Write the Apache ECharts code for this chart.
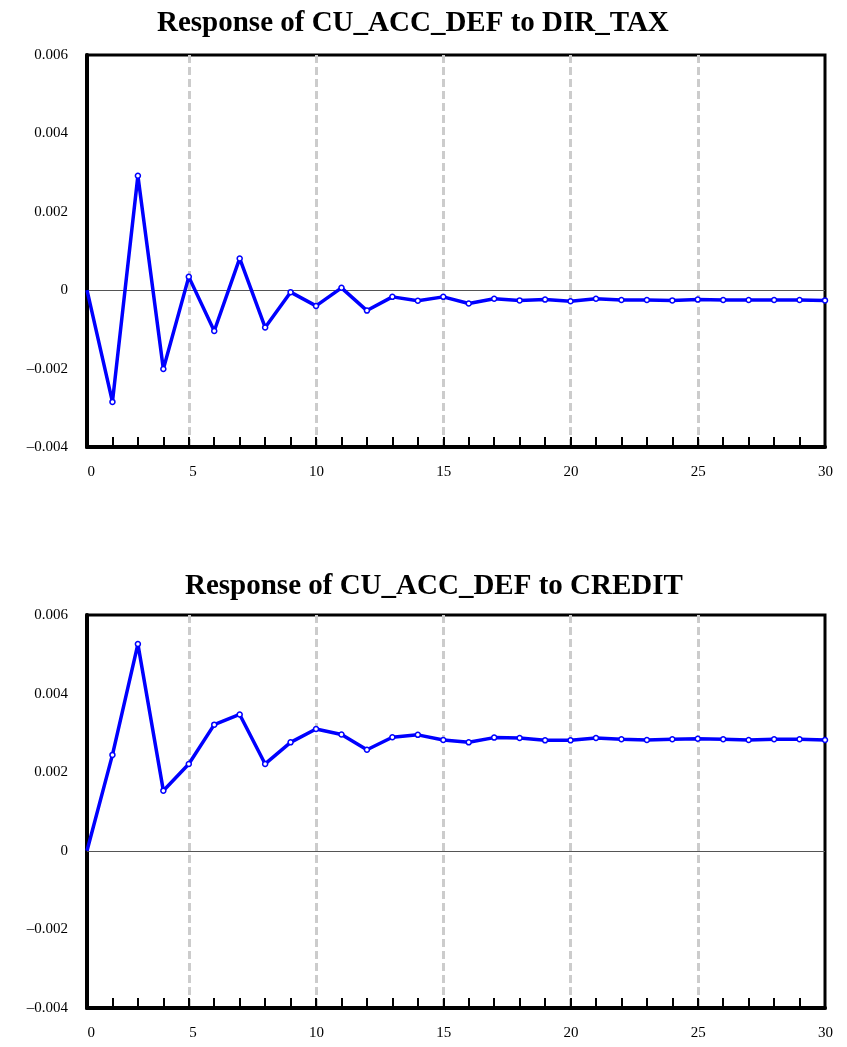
<!DOCTYPE html>
<html>
<head>
<meta charset="utf-8">
<script src="https://cdn.jsdelivr.net/npm/echarts@6/dist/echarts.min.js"></script>
<style>
html,body{margin:0;padding:0;background:#fff;}
#chart{width:847px;height:1047px;}
</style>
</head>
<body>
<div id="chart"></div>
<script>
// Periods 1..30
const periods = ['1','2','3','4','5','6','7','8','9','10','11','12','13','14','15','16','17','18','19','20','21','22','23','24','25','26','27','28','29','30'];
// Tick labels shown on x axis and the period index they sit at
const xTickLabels = ['0','5','10','15','20','25','30'];
const xTickIndex = [0,4,9,14,19,24,29];
// Dashed gridline positions (period index)
const gridIndex = [4,9,14,19,24];

const titleTop = 'Response of CU_ACC_DEF to DIR_TAX';
const titleBottom = 'Response of CU_ACC_DEF to CREDIT';

const dirTax = [0, -0.00285, 0.00292, -0.00201, 0.00034, -0.00104, 0.00081, -0.00095, -0.00005, -0.00040,
  0.00006, -0.00052, -0.00017, -0.00027, -0.00017, -0.00034, -0.00022, -0.00026, -0.00024, -0.00028,
  -0.00022, -0.00025, -0.00025, -0.00026, -0.00024, -0.00025, -0.00025, -0.00025, -0.00025, -0.00026];

const credit = [0, 0.00244, 0.00526, 0.00153, 0.00221, 0.00321, 0.00347, 0.00221, 0.00276, 0.00310,
  0.00296, 0.00257, 0.00289, 0.00295, 0.00282, 0.00276, 0.00288, 0.00287, 0.00281, 0.00281,
  0.00287, 0.00284, 0.00282, 0.00284, 0.00285, 0.00284, 0.00282, 0.00284, 0.00284, 0.00282];

const yMin = -0.004, yMax = 0.006, yStep = 0.002;

const FONT = '"Liberation Serif", "Times New Roman", serif';

function xAxisCfg(gi){
  return {
    type: 'category', gridIndex: gi, data: periods, boundaryGap: false,
    axisLine: {show: true, onZero: false, lineStyle: {color: '#000', width: 4}},
    axisTick: {show: true, inside: true, length: 10, alignWithLabel: true, interval: 0,
      lineStyle: {color: '#000', width: 2}},
    axisLabel: {
      show: true, margin: 18, color: '#000', fontFamily: FONT, fontSize: 15,
      interval: function(i){ return xTickIndex.indexOf(i) >= 0; },
      formatter: function(v, i){ const k = xTickIndex.indexOf(i); return k >= 0 ? '{a|' + xTickLabels[k] + '}' : ''; },
      rich: {a: {width: 16, align: 'right', fontFamily: FONT, fontSize: 15, color: '#000'}}
    },
    splitLine: {show: true, interval: function(i){ return gridIndex.indexOf(i) >= 0; },
      lineStyle: {color: '#cccccc', width: 3, type: [8,4]}}
  };
}
function yAxisCfg(gi){
  return {
    type: 'value', gridIndex: gi, min: yMin, max: yMax, interval: yStep,
    axisLine: {show: true, onZero: false, lineStyle: {color: '#000', width: 4}},
    axisTick: {show: false},
    splitLine: {show: false},
    axisLabel: {
      margin: 19, color: '#000', fontFamily: FONT, fontSize: 15,
      formatter: function(v){
        if (Math.abs(v) < 1e-12) return '0';
        const s = Math.abs(v).toFixed(3);
        return v < 0 ? '\u2013' + s : s;
      }
    }
  };
}
function seriesCfg(gi, data){
  return {
    type: 'line', xAxisIndex: gi, yAxisIndex: gi, data: data,
    symbol: function(v, p){ return p.dataIndex === 0 ? 'none' : 'circle'; },
    symbolSize: 5, z: 5,
    lineStyle: {color: '#0000ff', width: 3.5},
    itemStyle: {color: '#ffffff', borderColor: '#0000ff', borderWidth: 1.5},
    emphasis: {disabled: true},
    markLine: {silent: true, symbol: 'none', label: {show: false}, z: 3,
      lineStyle: {color: '#555555', width: 1, type: 'solid'},
      data: [{yAxis: 0}]}
  };
}

const chart = echarts.init(document.getElementById('chart'), null, {renderer: 'canvas'});
chart.setOption({
  backgroundColor: '#ffffff',
  animation: false,
  title: [
    {text: titleTop, left: 157, top: 9, padding: 0, textStyle: {fontFamily: FONT, fontWeight: 'bold', fontSize: 29, color: '#000'}},
    {text: titleBottom, left: 185, top: 572, padding: 0, textStyle: {fontFamily: FONT, fontWeight: 'bold', fontSize: 29, color: '#000'}}
  ],
  grid: [
    {left: 87, right: 22, top: 55, height: 392, show: true, borderColor: '#000', borderWidth: 3, backgroundColor: 'transparent'},
    {left: 87, right: 22, top: 615, height: 393, show: true, borderColor: '#000', borderWidth: 3, backgroundColor: 'transparent'}
  ],
  xAxis: [xAxisCfg(0), xAxisCfg(1)],
  yAxis: [yAxisCfg(0), yAxisCfg(1)],
  series: [seriesCfg(0, dirTax), seriesCfg(1, credit)]
});
</script>
</body>
</html>
